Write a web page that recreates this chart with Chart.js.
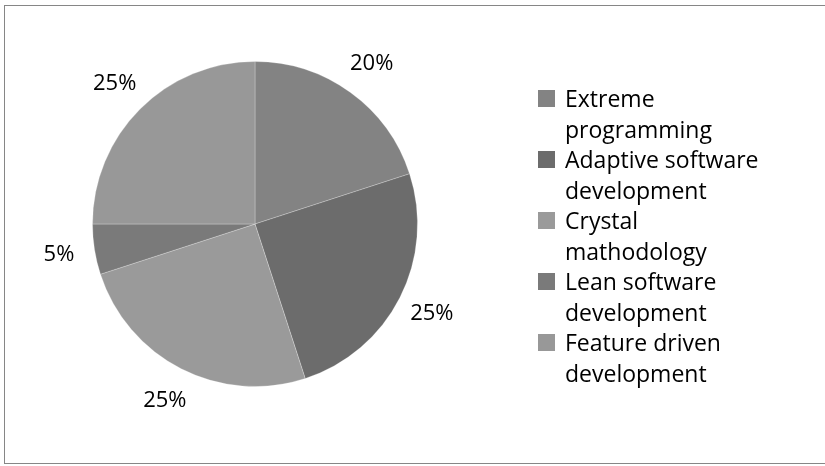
<!DOCTYPE html>
<html>
<head>
<meta charset="utf-8">
<script src="https://cdn.jsdelivr.net/npm/chart.js@4.4.1/dist/chart.umd.min.js"></script>
<style>
  html, body { margin: 0; padding: 0; background: #fff; }
  #wrap { position: relative; width: 825px; height: 466px; }
</style>
</head>
<body>
<div id="wrap"><canvas id="methodPie" width="825" height="466"></canvas></div>
<script>
// Agile methods share
const methods = [
    ['Extreme', 'programming'],
    ['Adaptive software', 'development'],
    ['Crystal', 'mathodology'],
    ['Lean software', 'development'],
    ['Feature driven', 'development']
];
const shares = [20, 25, 25, 5, 25];  // percent
const sliceColors = ['#838383', '#6c6c6c', '#9a9a9a', '#7a7a7a', '#989898'];

const FONT = '"Open Sans", Lato, sans-serif';

// Percent labels just outside each slice
const outsideLabels = {
    id: 'outsideLabels',
    afterDatasetsDraw(chart) {
        const ctx = chart.ctx;
        const arcs = chart.getDatasetMeta(0).data;
        ctx.save();
        ctx.font = '22px ' + FONT;
        ctx.fillStyle = '#000';
        ctx.textAlign = 'center';
        ctx.textBaseline = 'middle';
        arcs.forEach((arc, i) => {
            const mid = (arc.startAngle + arc.endAngle) / 2;
            const dist = arc.outerRadius + 36;
            const x = arc.x + Math.cos(mid) * dist;
            const y = arc.y + Math.sin(mid) * dist;
            ctx.fillText(chart.data.datasets[0].data[i] + '%', x, y);
        });
        ctx.restore();
    }
};

// Legend on the right with two-line entries, plus the outer frame
const sideLegend = {
    id: 'sideLegend',
    afterDraw(chart) {
        const ctx = chart.ctx;
        const colors = chart.data.datasets[0].backgroundColor;
        ctx.save();
        ctx.strokeStyle = '#868686';
        ctx.lineWidth = 1;
        ctx.strokeRect(4.5, 5.5, 825, 458);

        ctx.font = '23px ' + FONT;
        ctx.textAlign = 'left';
        ctx.textBaseline = 'alphabetic';
        chart.data.labels.forEach((lines, i) => {
            const base = 107 + i * 61;
            ctx.fillStyle = colors[i];
            ctx.fillRect(538, base - 17, 17, 17);
            ctx.fillStyle = '#000';
            lines.forEach((line, j) => ctx.fillText(line, 565, base + j * 30.5));
        });
        ctx.restore();
    }
};

const ctxPie = document.getElementById('methodPie').getContext('2d');
const methodPie = new Chart(ctxPie, {
    type: 'pie',
    data: {
        labels: methods,
        datasets: [{
            data: shares,
            backgroundColor: sliceColors,
            borderColor: 'rgba(255,255,255,0.25)',
            borderWidth: 1
        }]
    },
    options: {
        responsive: false,
        animation: false,
        layout: {
            padding: { left: 92, top: 61, right: 407, bottom: 79 }
        },
        plugins: {
            legend: { display: false },
            tooltip: { enabled: false }
        }
    },
    plugins: [outsideLabels, sideLegend]
});
</script>
</body>
</html>
